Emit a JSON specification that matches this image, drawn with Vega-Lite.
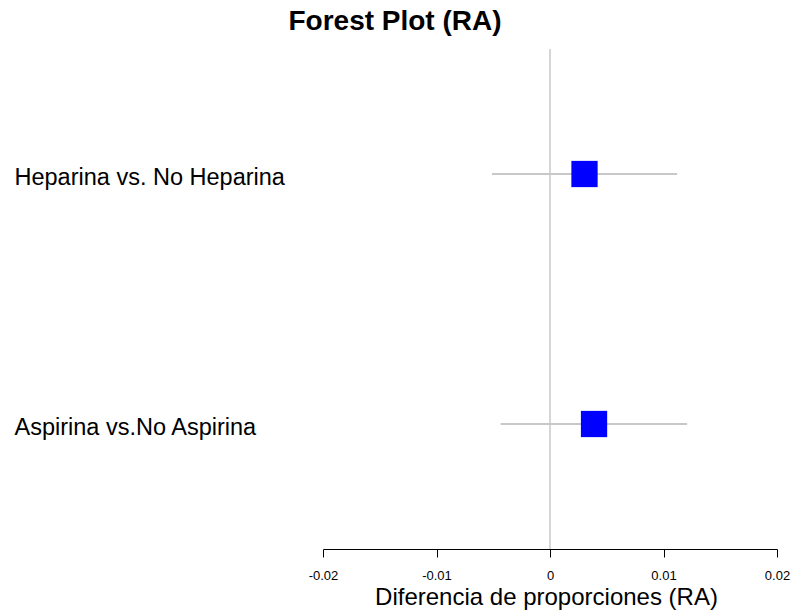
{
  "$schema": "https://vega.github.io/schema/vega-lite/v6.json",
  "width": 454,
  "height": 500,
  "autosize": {"type": "none"},
  "padding": {"left": 323, "top": 49, "right": 15, "bottom": 62},
  "background": "white",
  "config": {"view": {"stroke": null}, "font": "Liberation Sans"},
  "title": {
    "text": "Forest Plot (RA)",
    "font": "Liberation Sans",
    "fontSize": 28,
    "fontWeight": "bold",
    "color": "black",
    "anchor": "middle",
    "frame": "group",
    "dx": -155,
    "dy": 29,
    "baseline": "alphabetic",
    "offset": 19
  },
  "data": {
    "values": [
      {"study": "Heparina vs. No Heparina", "estimate": 0.00304, "lower": -0.00511, "upper": 0.0112},
      {"study": "Aspirina vs.No Aspirina", "estimate": 0.00388, "lower": -0.00435, "upper": 0.01208}
    ]
  },
  "encoding": {
    "y": {
      "field": "study",
      "type": "nominal",
      "sort": ["Heparina vs. No Heparina", "Aspirina vs.No Aspirina"],
      "scale": {"type": "point", "padding": 0.5},
      "axis": {
        "title": null,
        "domain": false,
        "ticks": false,
        "tickSize": 0,
        "grid": false,
        "labelAlign": "left",
        "labelBaseline": "middle",
        "labelPadding": 309,
        "labelLimit": 0,
        "labelFont": "Liberation Sans",
        "labelFontSize": 23.5,
        "labelColor": "black",
        "labelOffset": 3
      }
    }
  },
  "layer": [
    {
      "mark": {"type": "rule", "color": "#d3d3d3", "strokeWidth": 1.5},
      "encoding": {"x": {"datum": 0, "type": "quantitative"}, "y": null}
    },
    {
      "mark": {"type": "rule", "color": "#c8c8c8", "strokeWidth": 2},
      "encoding": {
        "x": {"field": "lower", "type": "quantitative"},
        "x2": {"field": "upper"}
      }
    },
    {
      "mark": {"type": "point", "shape": "square", "filled": true, "color": "#0000ff", "opacity": 1, "size": 690},
      "encoding": {
        "x": {
          "field": "estimate",
          "type": "quantitative",
          "scale": {"domain": [-0.02, 0.02], "nice": false, "zero": false},
          "axis": {
            "title": "Diferencia de proporciones (RA)",
            "values": [-0.02, -0.01, 0, 0.01, 0.02],
            "labelExpr": "datum.value == 0 ? '0' : (datum.value < 0 ? '-' : '') + format(abs(datum.value), '.2f')",
            "grid": false,
            "domainColor": "black",
            "domainWidth": 1,
            "tickColor": "black",
            "tickWidth": 1,
            "tickSize": 8,
            "labelPadding": 12,
            "labelFont": "Liberation Sans",
            "labelFontSize": 13,
            "labelColor": "black",
            "labelFlush": false,
            "titleFont": "Liberation Sans",
            "titleFontSize": 24,
            "titleFontWeight": "normal",
            "titleColor": "black",
            "titleX": 223,
            "titleY": 55,
            "titleAlign": "center",
            "titleBaseline": "alphabetic"
          }
        }
      }
    }
  ]
}
